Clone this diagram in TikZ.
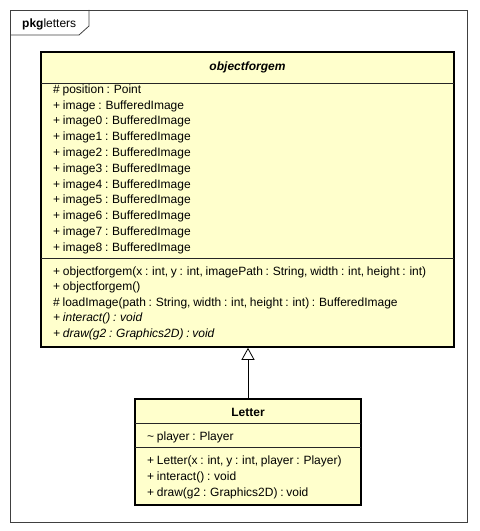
\documentclass[tikz,border=0pt]{standalone}
\usepackage{fontspec}
\setmainfont{Liberation Sans}[WordSpace=0.82]
\usetikzlibrary{arrows.meta}
\definecolor{classfill}{HTML}{FFFFCC}
\tikzset{
  classbox/.style={draw=black, line width=1.6bp, fill=classfill, inner sep=0pt},
  divider/.style={draw=black!85, line width=0.8bp},
  member/.style={anchor=west, inner sep=0pt, text height=8.6bp, text depth=0bp, font=\fontsize{12bp}{14bp}\selectfont},
  ctitle/.style={inner sep=0pt, text height=8.6bp, text depth=0bp, font=\fontsize{12bp}{14bp}\selectfont\bfseries},
  frame/.style={draw=black!75, line width=0.8bp},
  gen/.style={draw=black, line width=0.8bp, -{Triangle[open, length=12bp, width=13bp]}}
}
\begin{document}
\begin{tikzpicture}[x=1bp, y=-1bp]
\useasboundingbox (0,0) rectangle (480,531);
% package frame
\node[frame, minimum width=457bp, minimum height=512bp, inner sep=0pt] (pkg) at (238.5,266) {};
\coordinate (t1) at (10,35);
\coordinate (t2) at (79,35);
\coordinate (t3) at (89,26);
\coordinate (t4) at (89,10);
\draw[frame] (t1) -- (t2) -- (t3) -- (t4);
\node[member] (pkgname) at (22,23) {\textbf{pkg}letters};
% objectforgem
\node[classbox, minimum width=413bp, minimum height=295bp] (obj) at (247.5,199.5) {};
\node[ctitle, font=\fontsize{12bp}{14bp}\selectfont\bfseries\itshape] (objname) at (247.5,66) {objectforgem};
\coordinate (od1l) at (41,83); \coordinate (od1r) at (454,83);
\coordinate (od2l) at (41,258); \coordinate (od2r) at (454,258);
\draw[divider] (od1l) -- (od1r);
\draw[divider] (od2l) -- (od2r);
\node[member] (a0) at (53,89) {\# position : Point};
\node[member] (a1) at (53,104.8) {+ image : BufferedImage};
\node[member] (a2) at (53,120.6) {+ image0 : BufferedImage};
\node[member] (a3) at (53,136.4) {+ image1 : BufferedImage};
\node[member] (a4) at (53,152.2) {+ image2 : BufferedImage};
\node[member] (a5) at (53,168) {+ image3 : BufferedImage};
\node[member] (a6) at (53,183.8) {+ image4 : BufferedImage};
\node[member] (a7) at (53,199.6) {+ image5 : BufferedImage};
\node[member] (a8) at (53,215.4) {+ image6 : BufferedImage};
\node[member] (a9) at (53,231.2) {+ image7 : BufferedImage};
\node[member] (a10) at (53,247) {+ image8 : BufferedImage};
\node[member] (m0) at (53,271) {+ objectforgem(x : int, y : int, imagePath : String, width : int, height : int)};
\node[member] (m1) at (53,286.5) {+ objectforgem()};
\node[member] (m2) at (53,302) {\# loadImage(path : String, width : int, height : int) : BufferedImage};
\node[member] (m3) at (53,317.5) {\itshape + interact() : void};
\node[member] (m4) at (53,333) {\itshape + draw(g2 : Graphics2D) : void};
% Letter
\node[classbox, minimum width=226bp, minimum height=106bp] (letter) at (248,452) {};
\node[ctitle] (lettername) at (248,412) {Letter};
\coordinate (ld1l) at (135,423); \coordinate (ld1r) at (361,423);
\coordinate (ld2l) at (135,447); \coordinate (ld2r) at (361,447);
\draw[divider] (ld1l) -- (ld1r);
\draw[divider] (ld2l) -- (ld2r);
\node[member] (la0) at (147,436) {\textasciitilde{} player : Player};
\node[member] (lm0) at (147,460) {+ Letter(x : int, y : int, player : Player)};
\node[member] (lm1) at (147,476) {+ interact() : void};
\node[member] (lm2) at (147,492) {+ draw(g2 : Graphics2D) : void};
% generalization
\draw[gen] (letter.north) -- (letter.north |- obj.south);
\end{tikzpicture}
\end{document}
